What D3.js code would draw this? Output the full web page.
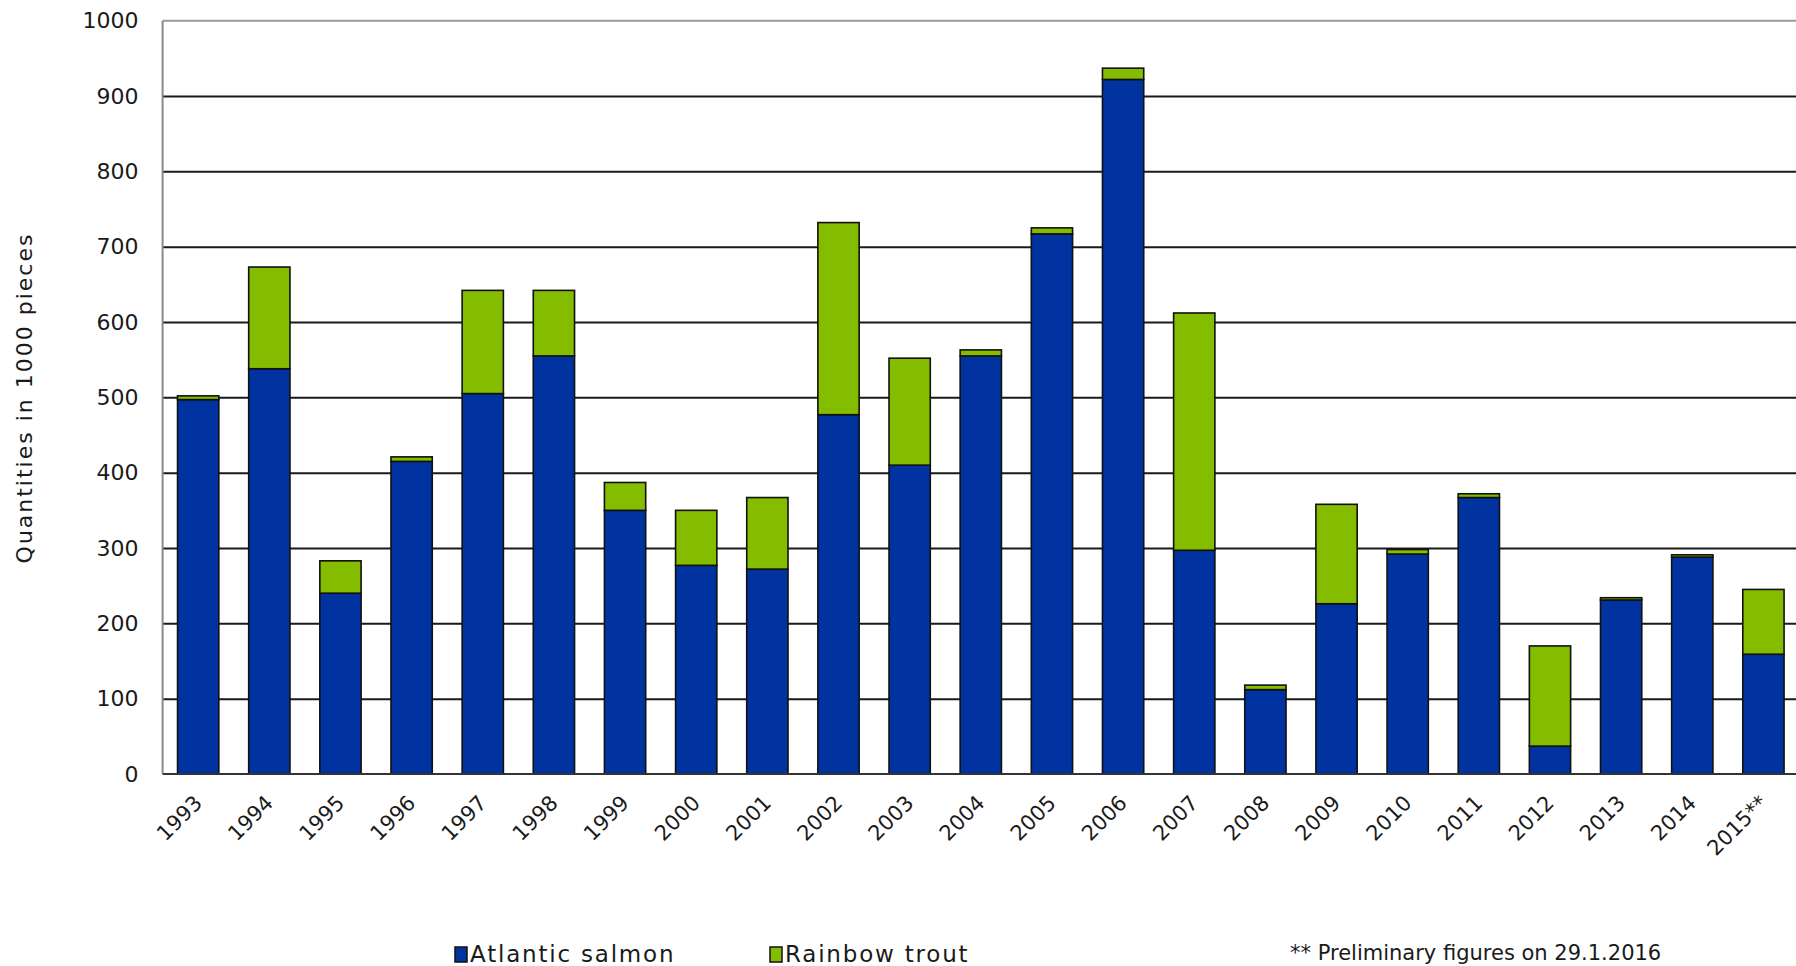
<!DOCTYPE html>
<html>
<head>
<meta charset="utf-8">
<script src="https://cdn.jsdelivr.net/npm/d3@7"></script>
<style>
  html, body { margin: 0; padding: 0; background: #fff; overflow: hidden; }
  svg { display: block; font-family: "DejaVu Sans", Verdana, sans-serif; }
</style>
</head>
<body>
<script>
const years = ["1993","1994","1995","1996","1997","1998","1999","2000","2001","2002","2003","2004","2005","2006","2007","2008","2009","2010","2011","2012","2013","2014","2015**"];
const atlanticSalmon = [497, 538, 240, 415, 505, 555, 350, 277, 272, 477, 410, 555, 717, 922, 297, 112, 226, 292, 367, 37, 231, 288, 159];
const rainbowTrout   = [5, 135, 43, 6, 137, 87, 37, 73, 95, 255, 142, 8, 8, 15, 315, 6, 132, 6, 5, 133, 3, 3, 86];
const seriesNames = ["Atlantic salmon", "Rainbow trout"];
const seriesColors = ["#0033A0", "#84BC00"];
const yTicks = [0, 100, 200, 300, 400, 500, 600, 700, 800, 900, 1000];
const yTitle = "Quantities in 1000 pieces";
const footnote = "** Preliminary figures on 29.1.2016";

const W = 1796, H = 966;
const plot = { left: 162.6, right: 1799, top: 20.7, bottom: 774 };

const svg = d3.select("body").append("svg").attr("width", W).attr("height", H);

const x = d3.scaleBand().domain(years).range([plot.left, plot.right])
  .paddingInner(0.42).paddingOuter(0.21);
const y = d3.scaleLinear().domain([0, 1000]).range([plot.bottom, plot.top]);

// gridlines
const grid = svg.append("g").attr("transform", `translate(${plot.left},0)`)
  .call(d3.axisLeft(y).tickValues(yTicks.filter(d => d > 0 && d < 1000))
    .tickSize(-(plot.right - plot.left)).tickFormat(""));
grid.select(".domain").remove();
grid.selectAll("line").attr("stroke", "#1a1a1a").attr("stroke-width", 2);

// top border (light gray) and left border
svg.append("line").attr("x1", plot.left).attr("x2", plot.right)
  .attr("y1", y(1000)).attr("y2", y(1000)).attr("stroke", "#9a9a9a").attr("stroke-width", 2);
svg.append("line").attr("x1", plot.left).attr("x2", plot.left)
  .attr("y1", y(1000)).attr("y2", y(0)).attr("stroke", "#8a8a8a").attr("stroke-width", 2);

// stacked bars
const table = years.map((yr, i) => ({ year: yr, "Atlantic salmon": atlanticSalmon[i], "Rainbow trout": rainbowTrout[i] }));
const stacked = d3.stack().keys(seriesNames)(table);
svg.append("g").selectAll("g").data(stacked).join("g")
  .attr("fill", (d, i) => seriesColors[i])
  .selectAll("rect").data(d => d).join("rect")
  .attr("x", d => x(d.data.year))
  .attr("width", x.bandwidth())
  .attr("y", d => y(d[1]))
  .attr("height", d => y(d[0]) - y(d[1]))
  .attr("stroke", "#111").attr("stroke-width", 1.6);

// bottom axis line
svg.append("line").attr("x1", plot.left).attr("x2", plot.right)
  .attr("y1", y(0)).attr("y2", y(0)).attr("stroke", "#333").attr("stroke-width", 2.2);

// y axis labels
const yAxis = svg.append("g").attr("transform", `translate(${plot.left},0)`)
  .call(d3.axisLeft(y).tickValues(yTicks).tickSize(0).tickPadding(24).tickFormat(d3.format("d")));
yAxis.select(".domain").remove();
yAxis.selectAll("text").attr("font-size", 22).attr("fill", "#1a1a1a")
  .attr("font-family", "DejaVu Sans, sans-serif");

// x axis labels
const xAxis = svg.append("g").attr("transform", `translate(0,${plot.bottom})`)
  .call(d3.axisBottom(x).tickSize(0));
xAxis.select(".domain").remove();
xAxis.selectAll("text")
  .attr("font-size", 21).attr("fill", "#1a1a1a")
  .attr("font-family", "DejaVu Sans, sans-serif")
  .attr("text-anchor", "end")
  .attr("x", 0).attr("y", 0).attr("dy", "0.35em")
  .attr("transform", "translate(0,25) rotate(-45)");

// y title
svg.append("text")
  .attr("transform", `translate(32,${398}) rotate(-90)`)
  .attr("text-anchor", "middle")
  .attr("font-size", 22).attr("letter-spacing", 2).attr("fill", "#1a1a1a")
  .text(yTitle);

// legend
const legendX = [455, 770];
const lg = svg.append("g");
seriesNames.forEach((name, i) => {
  lg.append("rect").attr("x", legendX[i]).attr("y", 947).attr("width", 12).attr("height", 15)
    .attr("fill", seriesColors[i]).attr("stroke", "#111").attr("stroke-width", 1.5);
  lg.append("text").attr("x", legendX[i] + 15).attr("y", 962)
    .attr("font-size", 23).attr("letter-spacing", 1.8).attr("fill", "#1a1a1a").text(name);
});

// footnote
svg.append("text").attr("x", 1290).attr("y", 960)
  .attr("font-size", 21).attr("fill", "#1a1a1a").text(footnote);
</script>
</body>
</html>
